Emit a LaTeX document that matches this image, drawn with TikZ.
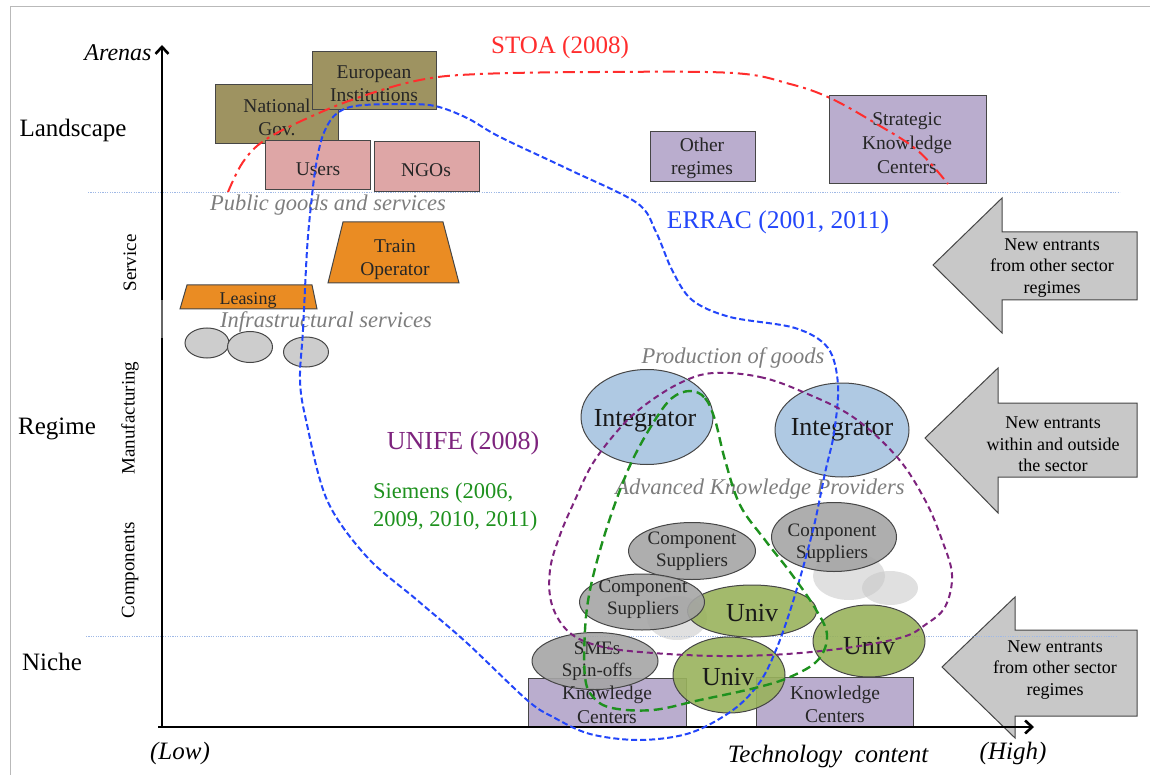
\documentclass[tikz,border=0pt]{standalone}
\usepackage{fontspec}
\setmainfont{Liberation Serif}
\usetikzlibrary{shapes.geometric,arrows.meta}

\definecolor{govolive}{RGB}{158,147,97}
\definecolor{userpink}{RGB}{222,166,166}
\definecolor{kclav}{RGB}{186,173,206}
\definecolor{oporange}{RGB}{234,140,35}
\definecolor{intblue}{RGB}{166,195,224}
\definecolor{supgray}{RGB}{165,165,165}
\definecolor{univgreen}{RGB}{153,178,92}
\definecolor{entgray}{RGB}{200,200,200}
\definecolor{infgray}{RGB}{205,205,205}
\definecolor{stoared}{RGB}{255,45,45}
\definecolor{erracblue}{RGB}{35,70,250}
\definecolor{unifepurple}{RGB}{125,35,125}
\definecolor{siemensgreen}{RGB}{30,145,30}
\definecolor{sepblue}{RGB}{160,185,230}
\definecolor{labgray}{RGB}{125,125,125}
\definecolor{edgegray}{RGB}{70,70,70}

\newcommand{\fsz}[2]{\fontsize{#1}{#2}\selectfont}

\begin{document}
\begin{tikzpicture}[x=1pt,y=-1pt,
  box/.style={draw=edgegray, line width=1pt, inner sep=0pt},
  oval/.style={ellipse, draw=edgegray, line width=1pt, inner sep=0pt, fill opacity=0.9},
  shadow/.style={ellipse, fill=gray!45, fill opacity=0.55, inner sep=0pt},
  boxtext/.style={align=center, inner sep=0pt, text=black!85, font=\fsz{19.5}{23}},
  bigtext/.style={inner sep=0pt, text=black!90, font=\fsz{26}{30}},
  arena/.style={inner sep=0pt, font=\fsz{25}{30}},
  band/.style={inner sep=0pt, rotate=90, font=\fsz{19}{22}},
  field/.style={inner sep=0pt, text=labgray, font=\fsz{22.5}{26}\itshape},
  enttext/.style={align=center, inner sep=0pt, font=\fsz{18}{21.5}},
  entarrow/.style={draw=edgegray, line width=1pt, fill=entgray},
  axis/.style={line width=2.6pt},
  sep/.style={draw=sepblue, line width=0.7pt, dash pattern=on 1.2pt off 1.2pt},
  stoa/.style={draw=stoared, line width=2pt, dash pattern=on 12pt off 5pt on 3pt off 5pt},
  errac/.style={draw=erracblue, line width=2pt, dash pattern=on 6pt off 3pt},
  unife/.style={draw=unifepurple, line width=2pt, dash pattern=on 6pt off 4pt},
  siemens/.style={draw=siemensgreen, line width=2.4pt, dash pattern=on 9pt off 5pt}]

\useasboundingbox (0,0) rectangle (1150,775);

% frame
\draw[gray!55, line width=1pt] (10,775) -- (10,7) -- (1150,7);

% entrants arrows
\draw[entarrow] (933,265) -- (1002,198) -- (1002,232) -- (1137,232) -- (1137,300) -- (1002,300) -- (1002,333) -- cycle;
\draw[entarrow] (925,438) -- (998,368) -- (998,403) -- (1137,403) -- (1137,477) -- (998,477) -- (998,513) -- cycle;
\draw[entarrow] (942,667) -- (1015,597) -- (1015,630) -- (1137,630) -- (1137,716) -- (1015,716) -- (1015,738) -- cycle;

% level separators
\draw[sep] (88,192) -- (1120,192);
\draw[sep] (86,636) -- (1117,636);

% landscape actors
\node[box, fill=govolive, minimum width=123, minimum height=59] (natgov) at (276.5,114.5) {};
\node[box, fill=govolive, minimum width=124, minimum height=58] (euinst) at (374,81) {};
\node[box, fill=userpink, minimum width=105, minimum height=49] (users) at (317.5,165.5) {};
\node[box, fill=userpink, minimum width=105, minimum height=50] (ngos) at (426.5,167) {};
\node[box, fill=kclav, minimum width=105, minimum height=50] (othreg) at (702.5,157) {};
\node[box, fill=kclav, minimum width=157, minimum height=88] (skc) at (907.5,140) {};

% services
\draw[edgegray, line width=1pt, fill=oporange] (343,222) -- (443,222) -- (459,283) -- (328,283) -- cycle;
\draw[edgegray, line width=1pt, fill=oporange] (187,285) -- (312,285) -- (317,309) -- (180,309) -- cycle;
\node[oval, fill=infgray, fill opacity=1, minimum width=44, minimum height=30] (inf1) at (207,343) {};
\node[oval, fill=infgray, fill opacity=1, minimum width=45, minimum height=31] (inf2) at (250,347) {};
\node[oval, fill=infgray, fill opacity=1, minimum width=45, minimum height=30] (inf3) at (306,352) {};

% knowledge centers
\node[box, fill=kclav, minimum width=158, minimum height=49] (kcl) at (607,702.5) {};
\node[box, fill=kclav, minimum width=157, minimum height=50] (kcr) at (834.5,702) {};

% faint shadows
\node[shadow, minimum width=72, minimum height=48] (sh1) at (849,576) {};
\node[shadow, minimum width=56, minimum height=34] (sh2) at (890,588) {};
\node[shadow, minimum width=60, minimum height=44] (sh3) at (677,618) {};

% manufacturing actors
\node[oval, fill=intblue, minimum width=132, minimum height=95] (int1) at (647,417) {};
\node[oval, fill=intblue, minimum width=134, minimum height=94] (int2) at (842,430) {};
\node[oval, fill=supgray, minimum width=127, minimum height=57] (cs1) at (692,551) {};
\node[oval, fill=supgray, minimum width=125, minimum height=69] (cs2) at (834,537) {};
\node[oval, fill=univgreen, minimum width=129, minimum height=52] (un1) at (752,611) {};
\node[oval, fill=supgray, minimum width=125, minimum height=56] (cs3) at (642,602) {};
\node[oval, fill=univgreen, minimum width=112, minimum height=72] (un2) at (869,641) {};
\node[oval, fill=supgray, minimum width=126, minimum height=57] (sme) at (595,661) {};
\node[oval, fill=univgreen, minimum width=112, minimum height=76] (un3) at (729,675) {};

% axes
\coordinate (origin) at (162,727);
\coordinate (ybreakl) at (162,338);
\coordinate (ybreaku) at (162,300);
\coordinate (ytop) at (162,45);
\coordinate (xleft) at (158,727);
\coordinate (xend) at (1034,727);
\draw[axis] (origin) -- (ybreakl);
\draw[black!60, line width=1.2pt] (ybreakl) -- (ybreaku);
\draw[axis, -{Straight Barb[length=7pt,width=13pt]}] (ybreaku) -- (ytop);
\draw[axis, -{Straight Barb[length=7pt,width=13pt]}] (xleft) -- (xend);

% box labels
\node[boxtext] (l-natgov) at (277,117) {National\\Gov.};
\node[boxtext] (l-euinst) at (374,84) {European\\Institutions};
\node[boxtext] (l-users) at (318,169) {Users};
\node[boxtext] (l-ngos) at (426,170) {NGOs};
\node[boxtext] (l-othreg) at (702,158.5) {Other\\regimes};
\node[boxtext, font=\fsz{19.5}{24}] (l-skc) at (907,143) {Strategic\\Knowledge\\Centers};
\node[boxtext] (l-train) at (395,259.5) {Train\\Operator};
\node[boxtext, font=\fsz{18}{21}] (l-leasing) at (248,300) {Leasing};
\node[boxtext, font=\fsz{19.5}{24}] (l-kcl) at (607,705) {Knowledge\\Centers};
\node[boxtext, font=\fsz{19.5}{23}] (l-kcr) at (835,704) {Knowledge\\Centers};
\node[boxtext, font=\fsz{19}{22}] (l-cs1) at (692,551) {Component\\Suppliers};
\node[boxtext, font=\fsz{19}{22}] (l-cs2) at (832,543) {Component\\Suppliers};
\node[boxtext, font=\fsz{19}{22}] (l-cs3) at (643,599) {Component\\Suppliers};
\node[boxtext, font=\fsz{19}{22}] (l-sme) at (597,661) {SMEs\\Spin-offs};
\node[bigtext] (l-int1) at (645,421) {Integrator};
\node[bigtext] (l-int2) at (842,430) {Integrator};
\node[bigtext] (l-un1) at (752,613) {Univ};
\node[bigtext] (l-un2) at (869,646) {Univ};
\node[bigtext] (l-un3) at (728,677) {Univ};

% level and band labels
\node[arena, font=\fsz{24}{28}\itshape] (l-arenas) at (118,53) {Arenas};
\node[arena] (l-land) at (73,130) {Landscape};
\node[arena] (l-regime) at (57,429) {Regime};
\node[arena] (l-niche) at (52,662) {Niche};
\node[band] (l-service) at (130,263) {Service};
\node[band] (l-manu) at (130,418) {Manufacturing};
\node[band] (l-comp) at (130,570) {Components};

% field labels
\node[field] (l-public) at (328,205) {Public goods and services};
\node[field] (l-infra) at (326,322) {Infrastructural services};
\node[field] (l-prod) at (733,358) {Production of goods};
\node[field] (l-akp) at (760,489) {Advanced Knowledge Providers};

% x axis labels
\node[arena, font=\fsz{25}{30}\itshape] (l-low) at (180,753) {(Low)};
\node[arena, font=\fsz{25}{30}\itshape] (l-tech) at (828,757) {Technology\ \ content};
\node[arena, font=\fsz{25}{30}\itshape] (l-high) at (1013,753) {(High)};

% entrants labels
\node[enttext] (l-ent1) at (1052,268) {New entrants\\from other sector\\regimes};
\node[enttext] (l-ent2) at (1053,444.5) {New entrants\\within and outside\\the sector};
\node[enttext] (l-ent3) at (1055,670) {New entrants\\from other sector\\regimes};

% initiative labels
\node[arena, text=stoared] (l-stoa) at (560,47) {STOA (2008)};
\node[arena, text=erracblue, font=\fsz{25.5}{30}] (l-errac) at (778,222) {ERRAC (2001, 2011)};
\node[arena, text=unifepurple, font=\fsz{26}{30}] (l-unife) at (463,443) {UNIFE (2008)};
\node[arena, text=siemensgreen, font=\fsz{22.5}{28}, align=left, anchor=west] (l-siemens) at (373,507) {Siemens (2006,\\2009, 2010, 2011)};

% initiative outlines
\draw[stoa] plot[smooth, tension=0.6] coordinates {(228,192) (243,162) (265,140) (310,117) (360,97) (420,80) (480,74) (600,72) (733,73) (790,84) (830,98) (875,123) (917,150) (948,184)};

\draw[errac] plot[smooth cycle, tension=0.55] coordinates {(300,380) (303,330) (307,250) (311,205) (316,165) (323,135) (335,115) (355,106) (400,104) (435,106) (467,118) (500,137) (570,170) (637,203) (656,232) (672,270) (692,300) (730,317) (795,328) (828,348) (838,385) (834,433) (825,473) (813,530) (795,595) (778,645) (760,682) (733,710) (690,733) (640,740) (590,734) (553,717) (527,700) (467,643) (417,600) (367,557) (327,500) (306,420)};

\draw[unife] plot[smooth cycle, tension=0.6] coordinates {(713,373) (760,377) (803,392) (853,417) (897,457) (925,500) (942,540) (952,575) (945,607) (925,625) (903,637) (853,647) (787,654) (720,656) (653,653) (603,647) (570,633) (552,605) (550,570) (560,535) (575,500) (593,463) (620,428) (645,405) (680,383)};

\draw[siemens] plot[smooth cycle, tension=0.6] coordinates {(690,391) (705,398) (715,420) (725,460) (740,505) (765,540) (790,572) (815,608) (827,635) (818,660) (790,677) (755,688) (700,700) (653,710) (612,708) (593,697) (585,677) (585,630) (590,590) (603,540) (620,490) (635,455) (655,420) (672,398)};

\end{tikzpicture}
\end{document}
